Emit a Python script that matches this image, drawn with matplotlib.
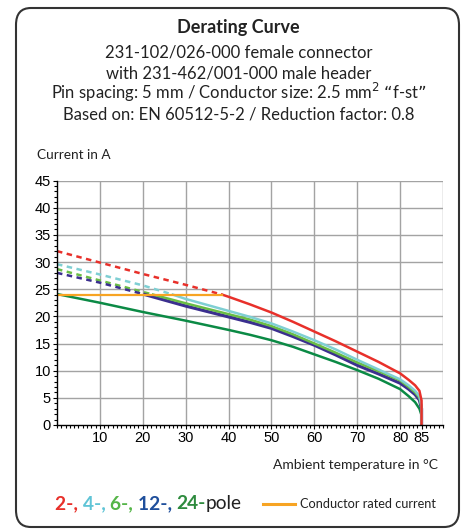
import matplotlib
matplotlib.use("Agg")
import matplotlib.pyplot as plt
from matplotlib.patches import FancyBboxPatch
from matplotlib.ticker import MultipleLocator

# ---- data (temperature in C, current in A) ----
RATED_T = [0, 38.5]
RATED_I = [24.0, 24.0]

# dashed parts (above conductor rating)
P2_DASH_T = [0, 10, 20, 30, 38.5]
P2_DASH_I = [32.0, 29.9, 27.8, 25.8, 24.0]
P4_DASH_T = [0, 10, 20, 27]
P4_DASH_I = [29.6, 27.7, 25.7, 24.0]
P6_DASH_T = [0, 10, 20, 22.4]
P6_DASH_I = [28.7, 26.6, 24.5, 24.0]
P12_DASH_T = [0, 10, 20.5]
P12_DASH_I = [28.0, 26.2, 24.0]

# solid parts
P2_T = [38.5, 40, 45, 50, 55, 60, 65, 70, 75, 80, 82, 83.5, 84.5, 85, 85]
P2_I = [24.0, 23.6, 22.2, 20.7, 19.0, 17.2, 15.4, 13.5, 11.6, 9.5, 8.3, 7.3, 6.3, 4.5, 0]
P4_T = [27, 30, 35, 40, 45, 50, 55, 60, 65, 70, 75, 80, 82, 83.5, 84.5, 85, 85]
P4_I = [24.0, 23.2, 22.1, 21.0, 19.9, 18.7, 17.2, 15.6, 13.9, 12.0, 10.2, 8.4, 7.3, 6.3, 5.3, 3.5, 0]
P6_T = [22.4, 30, 35, 40, 45, 50, 55, 60, 65, 70, 75, 80, 82, 83.5, 84.5, 85, 85]
P6_I = [24.0, 22.4, 21.4, 20.4, 19.4, 18.2, 16.7, 15.0, 13.3, 11.5, 9.9, 8.2, 7.0, 6.0, 5.0, 3.3, 0]
P12_T = [20.5, 30, 35, 40, 45, 50, 55, 60, 65, 70, 75, 80, 82, 83.5, 84.5, 85, 85]
P12_I = [24.0, 21.9, 20.9, 19.9, 18.9, 17.8, 16.3, 14.7, 12.9, 11.0, 9.4, 7.7, 6.6, 5.6, 4.6, 3.0, 0]
P24_T = [0, 10, 20, 30, 40, 45, 50, 55, 60, 65, 70, 75, 80, 82, 83.5, 84.5, 85, 85]
P24_I = [24.1, 22.5, 20.8, 19.2, 17.5, 16.6, 15.6, 14.4, 13.0, 11.6, 10.1, 8.5, 6.6, 5.3, 4.2, 3.0, 1.8, 0]

X_TICKS = [10, 20, 30, 40, 50, 60, 70, 80, 85]
X_GRID = [10, 20, 30, 40, 50, 60, 70, 80, 90]
Y_TICKS = [0, 5, 10, 15, 20, 25, 30, 35, 40, 45]

RED = "#e8302a"
CYAN = "#7fcfd3"
GREEN = "#6abd45"
BLUE = "#3b2f8f"
DKGREEN = "#0b8a45"
ORANGE = "#f7a423"
INK = "#222222"
GRID = "#a3a3a3"

TXT = "Lato"
NUM = "Liberation Sans"

fig = plt.figure(figsize=(4.65, 5.29), dpi=100)
W, H = 465, 529


def fx(px):
    return px / W


def fy(py):
    return 1 - py / H


# rounded frame, behind everything
frame = FancyBboxPatch((fx(16), fy(527)), fx(443), 519 / H,
                       boxstyle="round,pad=0,rounding_size=0.032",
                       transform=fig.transFigure, facecolor="white",
                       edgecolor="#333333", linewidth=1.5, zorder=-5)
fig.patches.append(frame)

fig.text(fx(238), fy(33), "Derating Curve", ha="center", va="baseline",
         fontsize=13, fontweight="bold", family=TXT, color=INK)
sub = ["231-102/026-000 female connector",
       "with 231-462/001-000 male header",
       "Pin spacing: 5 mm / Conductor size: 2.5 mm$^2$ \u201cf-st\u201d",
       "Based on: EN 60512-5-2 / Reduction factor: 0.8"]
for i, line in enumerate(sub):
    fig.text(fx(239), fy(58 + i * 20.5), line, ha="center", va="baseline",
             fontsize=12, family=TXT, color=INK)

fig.text(fx(37), fy(159), "Current in A", ha="left", va="baseline",
         fontsize=9.8, family=TXT, color=INK)
fig.text(fx(438), fy(469), "Ambient temperature in \u00b0C", ha="right", va="baseline",
         fontsize=10, family=TXT, color=INK)

ax = fig.add_axes([fx(57), fy(425), fx(443 - 57), (425 - 180.5) / H])
ax.set_zorder(2)
ax.patch.set_alpha(0)
ax.set_xlim(0, 90)
ax.set_ylim(0, 45)

for x in X_GRID:
    ax.axvline(x, color=GRID, lw=1.0, zorder=1)
for y in Y_TICKS[1:]:
    ax.axhline(y, color=GRID, lw=1.0, zorder=1)

dash = (0, (2.2, 1.8))
lw = 1.8
ax.plot(P2_DASH_T, P2_DASH_I, color=RED, lw=lw, ls=dash, zorder=3)
ax.plot(P4_DASH_T, P4_DASH_I, color=CYAN, lw=lw, ls=dash, zorder=3)
ax.plot(P6_DASH_T, P6_DASH_I, color=GREEN, lw=lw, ls=dash, zorder=3)
ax.plot(P12_DASH_T, P12_DASH_I, color=BLUE, lw=lw, ls=dash, zorder=3)

ax.plot(P24_T, P24_I, color=DKGREEN, lw=lw, zorder=4)
ax.plot(P12_T, P12_I, color=BLUE, lw=2.3, zorder=4)
ax.plot(P6_T, P6_I, color=GREEN, lw=lw, zorder=4)
ax.plot(P4_T, P4_I, color=CYAN, lw=lw, zorder=4)
ax.plot(P2_T, P2_I, color=RED, lw=lw, zorder=4)
ax.plot(RATED_T, RATED_I, color=ORANGE, lw=1.6, zorder=5)

ax.set_xticks(X_TICKS)
ax.set_yticks(Y_TICKS)
ax.xaxis.set_minor_locator(MultipleLocator(1))
ax.yaxis.set_minor_locator(MultipleLocator(1))
ax.tick_params(which="both", direction="out", length=2.2, width=0.8, color="black")
ax.tick_params(which="major", length=3, labelsize=10.5, pad=1.5)
for lab in ax.get_xticklabels() + ax.get_yticklabels():
    lab.set_family(NUM)
for s in ("top", "right"):
    ax.spines[s].set_visible(False)
for s in ("left", "bottom"):
    ax.spines[s].set_linewidth(1.0)
    ax.spines[s].set_zorder(6)

# legend line built from coloured pieces
r = fig.canvas.get_renderer()
pieces = [("2-, ", "#e8302a", "bold"), ("4-, ", "#5fc4d6", "bold"),
          ("6-, ", "#55b548", "bold"), ("12-, ", "#1f4f9c", "bold"),
          ("24-", "#2e8b3e", "bold"), ("pole", INK, "normal")]
x = 55
for s, c, w in pieces:
    t = fig.text(fx(x), fy(509), s, ha="left", va="baseline", fontsize=13.8,
                 fontweight=w, family=TXT, color=c)
    bb = t.get_window_extent(renderer=r)
    x += bb.width

fig.add_artist(plt.Line2D([fx(263), fx(295)], [fy(504), fy(504)],
                          color=ORANGE, lw=2.2, transform=fig.transFigure))
fig.text(fx(300), fy(508), "Conductor rated current", ha="left", va="baseline",
         fontsize=9.2, family=TXT, color=INK)

fig.savefig("out.png", dpi=100)
